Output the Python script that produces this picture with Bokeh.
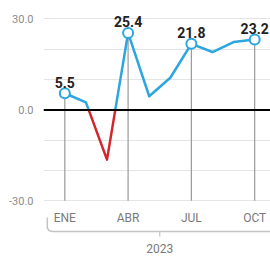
import numpy as np
from bokeh.plotting import figure
from bokeh.models import Range1d, FixedTicker, Span, ColumnDataSource
from bokeh.core.properties import value
from bokeh.embed import file_html
from bokeh.resources import INLINE

# ---- data ----
months = ["ENE", "FEB", "MAR", "ABR", "MAY", "JUN", "JUL", "AGO", "SEP", "OCT"]
values = [5.5, 2.5, -16.4, 25.4, 4.5, 10.6, 21.8, 19.1, 22.4, 23.2]
labeled_idx = [0, 3, 6, 9]
tick_labels = ["ENE", "ABR", "JUL", "OCT"]
year_label = "2023"
y_ticks = [-30, 0, 30]
y_grid = [-30, -20, -10, 0, 10, 20, 30]

BLUE = "#2ba6df"
RED = "#d3262c"
GRAY_TXT = "#8c8c8c"

xs = np.arange(len(values), dtype=float)
ys = np.array(values, dtype=float)

# split line at zero crossings
pos_x, pos_y, neg_x, neg_y = [], [], [], []
cur_x, cur_y = [xs[0]], [ys[0]]
cur_sign = ys[0] >= 0
for i in range(1, len(xs)):
    x0, y0, x1, y1 = xs[i - 1], ys[i - 1], xs[i], ys[i]
    s1 = y1 >= 0
    if s1 != cur_sign:
        t = y0 / (y0 - y1)
        xc = x0 + t * (x1 - x0)
        cur_x.append(xc); cur_y.append(0.0)
        (pos_x if cur_sign else neg_x).append(cur_x)
        (pos_y if cur_sign else neg_y).append(cur_y)
        cur_x, cur_y = [xc], [0.0]
        cur_sign = s1
    cur_x.append(x1); cur_y.append(y1)
(pos_x if cur_sign else neg_x).append(cur_x)
(pos_y if cur_sign else neg_y).append(cur_y)

p = figure(width=270, height=260, output_backend="svg", toolbar_location=None,
           x_range=Range1d(-1.01, 9.75), y_range=Range1d(-49.7, 36.1),
           min_border_left=43, min_border_right=0, min_border_top=0, min_border_bottom=0,
           x_axis_location=None)
p.outline_line_color = None
p.background_fill_color = "white"
p.border_fill_color = "white"

p.yaxis.ticker = FixedTicker(ticks=y_ticks)
p.yaxis.major_label_overrides = {t: f"{t:.1f}" for t in y_ticks}
p.yaxis.axis_line_color = None
p.yaxis.major_tick_line_color = None
p.yaxis.minor_tick_line_color = None
p.yaxis.major_label_standoff = 4
p.yaxis.major_label_text_font = "Roboto"
p.yaxis.major_label_text_font_size = "11px"
p.yaxis.major_label_text_color = GRAY_TXT
p.ygrid.ticker = FixedTicker(ticks=y_grid)
p.ygrid.grid_line_color = "#e4e4e4"
p.ygrid.grid_line_width = 1
p.xgrid.grid_line_color = None

ymin = min(y_ticks)

# vertical guide lines at labeled months
lx = [xs[i] for i in labeled_idx]
ly = [ys[i] for i in labeled_idx]
p.segment(x0=lx, y0=[ymin] * len(lx), x1=lx, y1=ly, line_color="#9a9a9a", line_width=1.2)

p.add_layout(Span(location=0, dimension="width", line_color="black", line_width=2))

p.multi_line(pos_x, pos_y, line_color=BLUE, line_width=2.5, line_join="round")
p.multi_line(neg_x, neg_y, line_color=RED, line_width=2.5, line_join="round")

src = ColumnDataSource(dict(x=lx, y=ly, t=[f"{v:.1f}" for v in ly]))
p.scatter("x", "y", source=src, size=10, fill_color="white", line_color=BLUE, line_width=2)
p.text("x", "y", text="t", source=src, text_font=value("Roboto"), text_font_style="bold",
       text_font_size="14px", text_color="#222222", text_align="center",
       text_baseline="alphabetic", y_offset=-11)

# month labels
p.text(x=lx, y=[ymin] * len(lx), text=tick_labels, text_font=value("Roboto"),
       text_font_size="12px", text_color="#7a7a7a", text_align="center",
       text_baseline="middle", y_offset=17)

# year bracket
bx0 = xs[0] - 0.83
by_top = ymin - 5.5
by = ymin - 10.1
r = 0.25
bracket_x = [bx0, bx0, bx0 + r * 0.3, bx0 + r, 9.75]
bracket_y = [by_top, by + 1.2, by + 0.3, by, by]
p.line(bracket_x, bracket_y, line_color="#c4c4c4", line_width=1.5)
xc = (xs[labeled_idx[0]] + xs[labeled_idx[-1]]) / 2
p.segment(x0=[xc], y0=[by], x1=[xc], y1=[by - 1.7], line_color="#c4c4c4", line_width=1.2)
p.text(x=[xc], y=[by], text=[year_label], text_font=value("Roboto"),
       text_font_size="12px", text_color="#7a7a7a", text_align="center",
       text_baseline="middle", y_offset=17)

open("out.html", "w").write(file_html(p, INLINE))
